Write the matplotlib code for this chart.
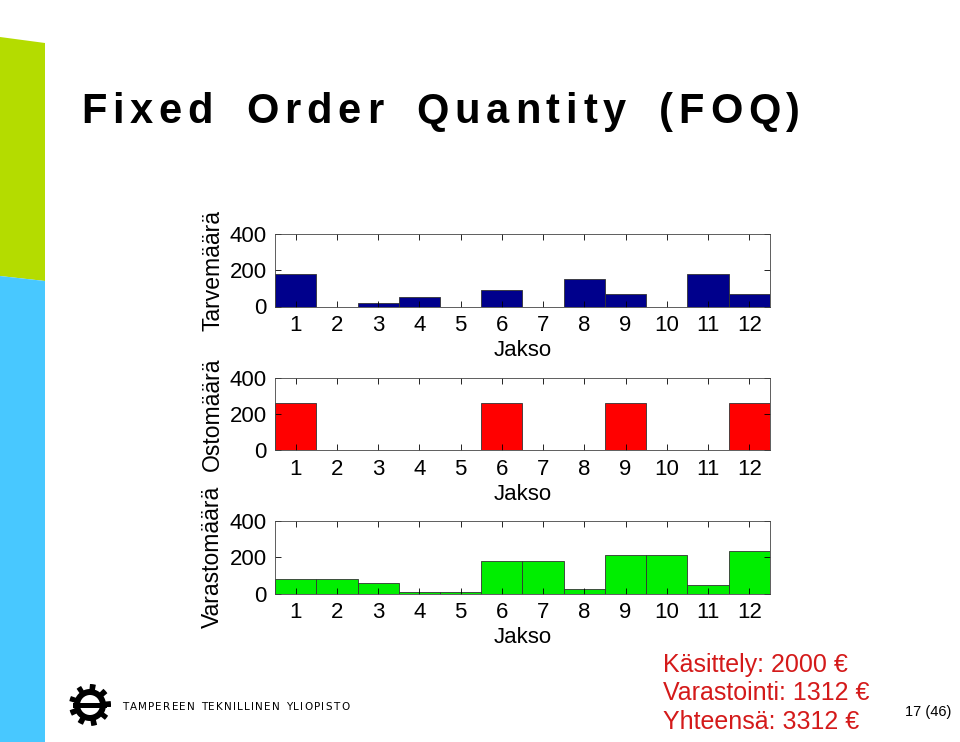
import numpy as np
import matplotlib.pyplot as plt
from matplotlib.patches import Polygon, Circle, Rectangle

periods = list(range(1, 13))
demand = [182, 0, 20, 54, 0, 93, 0, 154, 71, 0, 177, 71]
purchase = [260, 0, 0, 0, 0, 260, 0, 0, 260, 0, 0, 260]
inventory = [80, 80, 58, 8, 8, 177, 177, 27, 215, 215, 47, 234]

panel_labels = ['Tarvemäärä', 'Ostomäärä', 'Varastomäärä']
panel_colors = ['#00008C', '#FF0000', '#00EE00']
cost_lines = ['Käsittely: 2000 €', 'Varastointi: 1312 €', 'Yhteensä: 3312 €']
title = 'Fixed Order Quantity (FOQ)'
logo_text = 'TAMPEREEN TEKNILLINEN YLIOPISTO'
page = '17 (46)'

W, H = 960, 742
fig = plt.figure(figsize=(W / 100, H / 100), dpi=100)
plt.rcParams['font.family'] = ['Liberation Sans', 'DejaVu Sans']

# background decoration layer in pixel coordinates
deco = fig.add_axes([0, 0, 1, 1], zorder=-1)
deco.set_xlim(0, W)
deco.set_ylim(H, 0)
deco.axis('off')
deco.add_patch(Polygon([(0, 37), (45, 43), (45, 281), (0, 276)], closed=True,
                       facecolor='#B4DC00', edgecolor='none'))
deco.add_patch(Polygon([(0, 276), (45, 281), (45, H), (0, H)], closed=True,
                       facecolor='#48C8FF', edgecolor='none'))

renderer = fig.canvas.get_renderer()


def spaced_text(ax, x, y, s, gap, word_gap=0, **kw):
    for ch in s:
        t = ax.text(x, y, ch, **kw)
        bb = t.get_window_extent(renderer=renderer)
        x += bb.width + gap
        if ch == ' ':
            x += word_gap


spaced_text(deco, 81, 123, title, 5.8, word_gap=10, fontsize=30, fontweight='bold',
            va='baseline', ha='left')

# logo: gear with a bar
cx, cy = 90, 705
ang = np.linspace(0, 2 * np.pi, 200, endpoint=False)
r = np.where(np.cos(9 * ang + 0.35) > 0.2, 21, 16)
deco.add_patch(Polygon(np.c_[cx + r * np.cos(ang), cy + r * np.sin(ang)],
                       closed=True, facecolor='black', edgecolor='none'))
deco.add_patch(Circle((cx, cy), 10, facecolor='white', edgecolor='none'))
deco.add_patch(Rectangle((cx - 17, cy - 2.5), 34, 5, facecolor='black',
                         edgecolor='none'))
spaced_text(deco, 122, 710, logo_text, 1.25, fontsize=7.5, family='DejaVu Sans',
            va='baseline', ha='left')

for i, line in enumerate(cost_lines):
    deco.text(663, 672 + 28.5 * i, line, fontsize=18, color='#D41A1A',
              va='baseline', ha='left')
deco.text(905, 716, page, fontsize=10.5, va='baseline', ha='left')

# three bar panels
series = [demand, purchase, inventory]
tops = [234, 378, 521]
for vals, lab, col, top in zip(series, panel_labels, panel_colors, tops):
    ax = fig.add_axes([275 / W, 1 - (top + 72.5) / H, 495 / W, 72.5 / H])
    ax.bar(periods, vals, width=1.0, color=col, edgecolor='#333333', linewidth=0.6)
    ax.set_xlim(0.5, 12.5)
    ax.set_ylim(0, 400)
    ax.set_xticks(periods)
    ax.set_yticks([0, 200, 400])
    ax.tick_params(direction='in', top=True, right=True, length=4, width=0.6,
                   labelsize=16, pad=6, colors='black')
    ax.tick_params(axis='y', pad=6)
    for s in ax.spines.values():
        s.set_linewidth(0.6)
        s.set_color('#444444')
    ax.set_xlabel('Jakso', fontsize=16, labelpad=3)
    ax.set_ylabel(lab, fontsize=16.5)
    ax.yaxis.set_label_coords(-0.103, 0.5)

fig.savefig('out.png', dpi=100)
